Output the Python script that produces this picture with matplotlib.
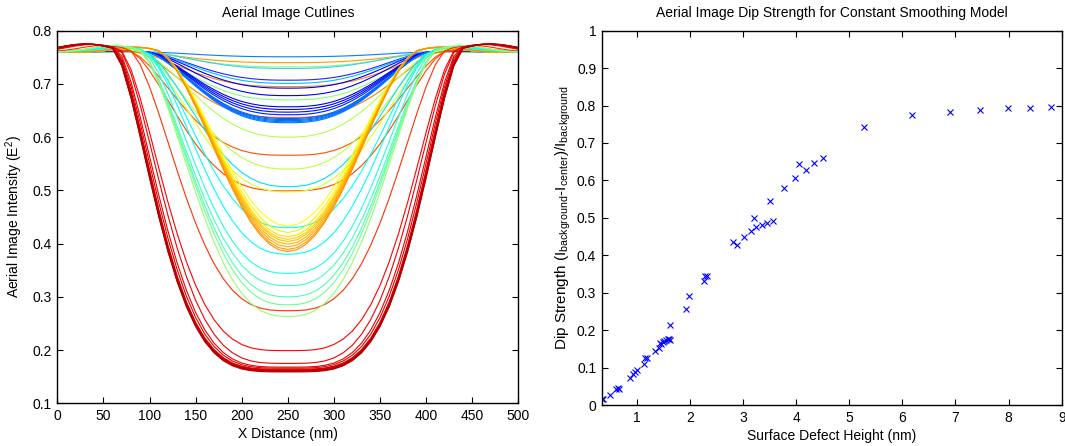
import numpy as np
import matplotlib.pyplot as plt
from matplotlib.ticker import FormatStrFormatter, FuncFormatter

plt.rcParams['font.family'] = ['Liberation Sans', 'DejaVu Sans']
plt.rcParams['mathtext.fontset'] = 'custom'
plt.rcParams['mathtext.rm'] = 'Liberation Sans'
plt.rcParams['mathtext.it'] = 'Liberation Sans'

# ---- left panel: cutlines, one entry per curve ----
background = 0.76
curve_min = [0.751, 0.740, 0.732, 0.729, 0.707, 0.701, 0.695, 0.692, 0.678, 0.670,
             0.657, 0.652, 0.647, 0.642, 0.637, 0.635, 0.633, 0.631, 0.629, 0.627,
             0.600, 0.566, 0.540, 0.507, 0.499, 0.497, 0.433, 0.430, 0.421, 0.413,
             0.408, 0.404, 0.399, 0.394, 0.389, 0.385, 0.380, 0.344, 0.321, 0.300,
             0.285, 0.274, 0.263, 0.199, 0.175, 0.168, 0.166, 0.164, 0.163, 0.162,
             0.161, 0.160, 0.159]
curve_color = ['#0a7cff', '#ff9900', '#80ff80', '#40c8ff', '#2424ff', '#00bfff', '#ff8c00', '#0000ff', '#0000ff', '#80ff80',
               '#0000f0', '#0000ff', '#0010ff', '#0020ff', '#ff7a00', '#0060ff', '#0066ff', '#006cff', '#0070ff', '#0076ff',
               '#b0ff50', '#ff5000', '#c0ff40', '#00e0ff', '#ff4400', '#e0ff20', '#ffff00', '#00ffff', '#fff000', '#ffe000',
               '#ffd000', '#ffc000', '#ffb000', '#ffa400', '#ff9a00', '#ff9000', '#00ffff', '#20ffe0', '#40ffc0', '#50ffb0',
               '#70ff90', '#ff3000', '#90ff70', '#ff0000', '#f00000', '#e80000', '#e00000', '#d80000', '#d00000', '#c80000',
               '#c00000', '#b80000', '#b00000']
# radius (nm) where each dip meets the background, and flatness of its bottom
curve_reach = [158, 170, 162, 158, 158, 158, 170, 158, 158, 162,
               158, 158, 158, 158, 170, 158, 158, 158, 158, 158,
               165, 175, 165, 160, 175, 165, 145, 160, 145, 145,
               145, 145, 145, 145, 145, 145, 160, 162, 165, 165,
               165, 175, 165, 185, 186, 188, 189, 190, 190, 191,
               191, 192, 192]
curve_flat = [2.6, 2.8, 2.7, 2.6, 2.6, 2.6, 2.8, 2.6, 2.6, 2.7,
              2.6, 2.6, 2.6, 2.6, 2.8, 2.6, 2.6, 2.6, 2.6, 2.6,
              2.5, 3.0, 2.5, 2.5, 3.0, 2.5, 2.0, 2.5, 2.0, 2.0,
              2.0, 2.0, 2.0, 2.0, 2.0, 2.0, 2.5, 2.6, 2.6, 2.6,
              2.6, 3.0, 2.6, 3.5, 3.6, 3.8, 3.9, 4.0, 4.0, 4.0,
              4.0, 4.0, 4.0]

# ---- right panel: dip strength vs defect height ----
defect_height = [0.34, 0.36, 0.50, 0.61, 0.64, 0.66, 0.87, 0.93, 0.97, 1.01,
                 1.14, 1.16, 1.19, 1.34, 1.41, 1.43, 1.46, 1.49, 1.52, 1.55,
                 1.58, 1.61, 1.63, 1.62, 1.93, 1.99, 2.27, 2.29, 2.33, 2.81,
                 2.88, 3.02, 3.15, 3.21, 3.25, 3.35, 3.45, 3.51, 3.56, 3.78,
                 3.98, 4.06, 4.18, 4.34, 4.50, 5.28, 6.19, 6.90, 7.47, 7.98,
                 8.40, 8.79]
dip_strength = [0.016, 0.016, 0.028, 0.043, 0.045, 0.042, 0.072, 0.084, 0.088, 0.093,
                0.110, 0.125, 0.125, 0.144, 0.152, 0.165, 0.163, 0.168, 0.171, 0.174,
                0.176, 0.177, 0.174, 0.214, 0.256, 0.290, 0.331, 0.345, 0.344, 0.435,
                0.427, 0.448, 0.465, 0.499, 0.476, 0.481, 0.487, 0.545, 0.492, 0.581,
                0.607, 0.643, 0.628, 0.646, 0.660, 0.742, 0.774, 0.782, 0.788, 0.794,
                0.794, 0.797]

x = np.arange(0, 501, 10)


def cutline(cmin, reach, flat):
    depth = background - cmin
    u = np.abs(x - 250) / reach
    core = np.clip(1 - u ** flat, 0, None) ** 2
    ripple = 0.025 * depth * np.exp(-((u - 1.15) / 0.2) ** 2)
    return background - depth * core + ripple


fig = plt.figure(figsize=(10.65, 4.46), dpi=100)
ax1 = fig.add_axes([0.0538, 0.0957, 0.4329, 0.8355])
ax2 = fig.add_axes([0.5650, 0.0919, 0.4319, 0.8393])

for cmin, col, reach, flat in zip(curve_min, curve_color, curve_reach, curve_flat):
    ax1.plot(x, cutline(cmin, reach, flat), color=col, lw=0.8)

ax1.set_xlim(0, 500)
ax1.set_ylim(0.1, 0.8)
ax1.set_xticks(np.arange(0, 501, 50))
ax1.set_yticks(np.arange(0.1, 0.81, 0.1))
ax1.yaxis.set_major_formatter(FormatStrFormatter('%.1f'))
ax1.set_title('Aerial Image Cutlines', fontsize=10, pad=10)
ax1.set_xlabel('X Distance (nm)', fontsize=10, labelpad=3)
ax1.set_ylabel('Aerial Image Intensity (E$^2$)', fontsize=10, labelpad=5)

ax2.plot(defect_height, dip_strength, 'x', color='#0000ff', ms=4, mew=0.8)
ax2.set_xlim(0.34, 9)
ax2.set_ylim(0, 1)
ax2.set_xticks(range(1, 10))
ax2.set_yticks(np.arange(0, 1.01, 0.1))
ax2.yaxis.set_major_formatter(FuncFormatter(lambda v, p: '%g' % round(v, 1)))
ax2.set_title('Aerial Image Dip Strength for Constant Smoothing Model', fontsize=10, pad=10)
ax2.set_xlabel('Surface Defect Height (nm)', fontsize=10, labelpad=3)
ax2.set_ylabel(r'Dip Strength (I$_{\rm background}$-I$_{\rm center}$)/I$_{\rm background}$',
               fontsize=11, labelpad=3)

for ax in (ax1, ax2):
    ax.tick_params(direction='in', top=True, right=True, length=4, width=0.8, labelsize=10, pad=4)
    for s in ax.spines.values():
        s.set_linewidth(1.0)

fig.savefig('out.png', dpi=100)
